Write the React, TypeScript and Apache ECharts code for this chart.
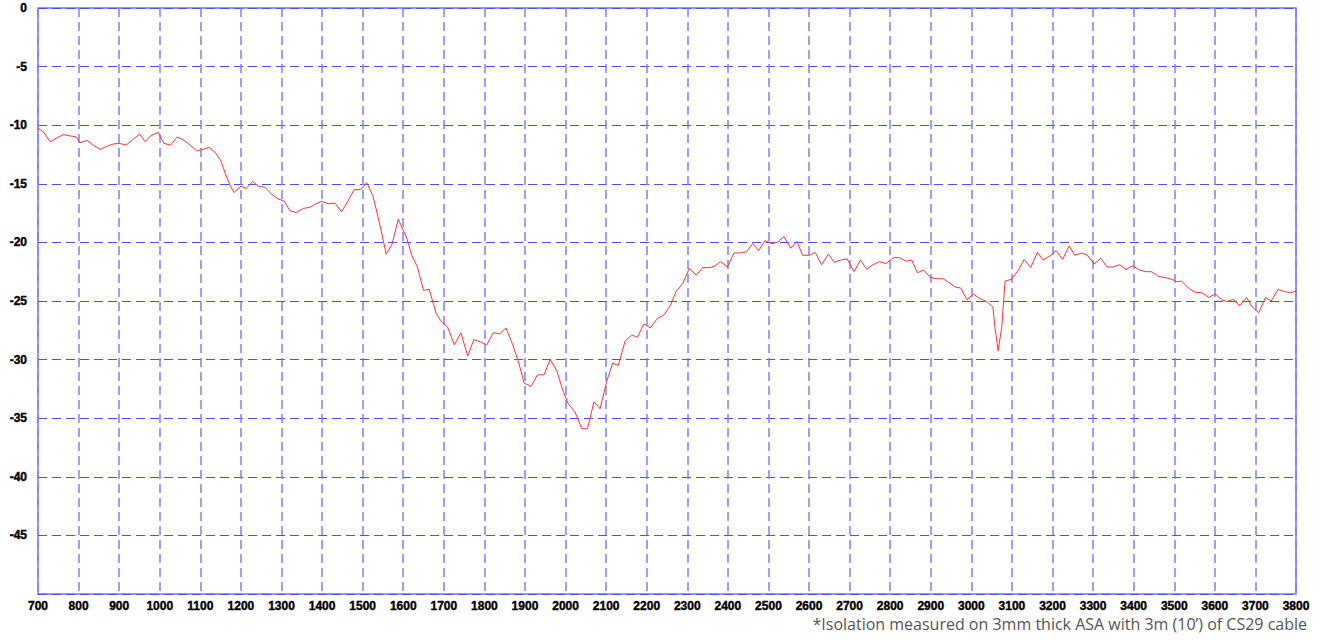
import React, { useEffect, useRef } from "react";
import * as echarts from "echarts";

const freqs: number[] = [
  700, 713, 730, 746, 762, 777, 794, 803, 821, 836, 853, 869, 886, 900, 917, 931, 950, 964, 978, 996,
  1010, 1027, 1043, 1060, 1075, 1091, 1107, 1122, 1136, 1150, 1163, 1173, 1183, 1200, 1213, 1229, 1243, 1259, 1276, 1292,
  1306, 1321, 1336, 1354, 1370, 1385, 1399, 1415, 1432, 1448, 1465, 1479, 1494, 1510, 1525, 1535, 1547, 1558, 1572, 1588,
  1599, 1609, 1621, 1635, 1650, 1664, 1681, 1695, 1709, 1726, 1742, 1759, 1774, 1791, 1806, 1822, 1838, 1853, 1870, 1884,
  1898, 1915, 1931, 1947, 1962, 1978, 1993, 2007, 2023, 2040, 2054, 2070, 2085, 2101, 2116, 2130, 2147, 2163, 2177, 2193,
  2209, 2226, 2242, 2258, 2273, 2289, 2305, 2322, 2338, 2356, 2368, 2382, 2399, 2415, 2432, 2446, 2461, 2476, 2492, 2508,
  2522, 2538, 2555, 2570, 2584, 2601, 2615, 2631, 2648, 2662, 2678, 2694, 2711, 2727, 2742, 2758, 2773, 2790, 2808, 2823,
  2839, 2853, 2867, 2882, 2899, 2915, 2930, 2946, 2960, 2974, 2989, 3005, 3021, 3038, 3053, 3058, 3066, 3075, 3083, 3099,
  3116, 3130, 3146, 3163, 3177, 3194, 3209, 3225, 3241, 3255, 3272, 3286, 3302, 3319, 3334, 3350, 3365, 3381, 3398, 3414,
  3430, 3444, 3461, 3477, 3494, 3506, 3518, 3535, 3551, 3568, 3585, 3601, 3617, 3630, 3646, 3661, 3678, 3692, 3708, 3725,
  3739, 3756, 3772, 3787, 3800,
];

const isolation: number[] = [
  -10.27, -10.55, -11.4, -11.1, -10.8, -10.9, -11.0, -11.5, -11.3, -11.7, -12.06, -11.8, -11.6, -11.55, -11.7, -11.3, -10.75, -11.4, -10.9, -10.6,
  -11.55, -11.7, -11.0, -11.3, -11.7, -12.2, -12.05, -11.9, -12.3, -13.0, -14.25, -15.1, -15.75, -15.2, -15.4, -14.8, -15.2, -15.3, -15.9, -16.3,
  -16.45, -17.3, -17.45, -17.1, -17.0, -16.7, -16.5, -16.7, -16.65, -17.4, -16.4, -15.5, -15.5, -14.9, -16.0, -17.4, -19.2, -21.0, -20.2, -18.0,
  -18.9, -19.65, -21.1, -22.1, -24.1, -24.0, -26.05, -26.8, -27.2, -28.75, -27.7, -29.7, -28.3, -28.5, -28.75, -27.7, -27.8, -27.3, -28.75, -30.2,
  -32.0, -32.3, -31.3, -31.3, -30.0, -30.9, -32.6, -33.8, -34.45, -35.9, -35.9, -33.6, -34.2, -31.9, -30.3, -30.5, -28.4, -27.9, -28.1, -26.95,
  -27.3, -26.5, -26.2, -25.4, -24.15, -23.5, -22.2, -22.8, -22.15, -22.15, -22.0, -21.65, -22.1, -20.9, -20.9, -20.8, -20.1, -20.7, -19.85, -20.1,
  -20.0, -19.5, -20.5, -19.9, -21.1, -21.1, -20.85, -21.9, -21.0, -21.7, -21.5, -21.4, -22.5, -21.5, -22.3, -21.9, -21.65, -21.8, -21.3, -21.3,
  -21.6, -21.5, -22.6, -22.35, -23.0, -23.1, -23.1, -23.45, -23.8, -23.9, -24.9, -24.4, -24.8, -25.05, -25.5, -27.2, -29.25, -27.2, -23.3, -23.15,
  -22.35, -21.45, -22.15, -20.85, -21.5, -21.15, -20.7, -21.45, -20.3, -21.1, -20.9, -21.1, -21.85, -21.35, -22.1, -22.1, -21.9, -22.3, -22.0, -22.35,
  -22.5, -22.5, -22.9, -23.0, -23.15, -23.35, -23.3, -23.9, -24.25, -24.3, -24.7, -24.4, -24.9, -25.05, -24.85, -25.4, -24.7, -25.5, -26.0, -24.7,
  -25.0, -24.0, -24.2, -24.3, -24.15,
];

const xRange = { min: 700, max: 3800, step: 100 };
const yRange = { min: -50, max: 0, step: 5 };
const footnote = "*Isolation measured on 3mm thick ASA with 3m (10\u2019) of CS29 cable";

export default function App() {
  const ref = useRef<HTMLDivElement>(null);

  useEffect(() => {
    document.body.style.margin = "0";
    if (!ref.current) return;
    const chart = echarts.init(ref.current, undefined, { renderer: "svg" });
    const data = freqs.map((f, i) => [f, isolation[i]]);
    const labelStyle = {
      color: "#000",
      fontFamily: "'Liberation Sans', Arial, sans-serif",
      fontWeight: "bold",
      fontSize: 12,
      textBorderColor: "#000",
      textBorderWidth: 0.4,
    };
    chart.setOption({
      animation: false,
      backgroundColor: "#ffffff",
      grid: {
        left: 38,
        right: 29,
        top: 8,
        bottom: 46,
        show: true,
        borderColor: "#7373ff",
        borderWidth: 1.5,
        backgroundColor: "transparent",
      },
      xAxis: {
        type: "value",
        min: xRange.min,
        max: xRange.max,
        interval: xRange.step,
        axisLine: { show: false },
        axisTick: { show: false },
        axisLabel: {
          ...labelStyle,
          margin: 6,
          formatter: (v: number) => String(v),
        },
        splitLine: {
          show: true,
          lineStyle: { color: "#7f7fff", type: [9, 5], width: 1.5 },
        },
      },
      yAxis: {
        type: "value",
        min: yRange.min,
        max: yRange.max,
        interval: yRange.step,
        axisLine: { show: false },
        axisTick: { show: false },
        axisLabel: {
          ...labelStyle,
          margin: 11,
          formatter: (v: number) => (v === yRange.min ? "" : String(v)),
        },
        splitLine: {
          show: true,
          lineStyle: { color: "#4d4dff", type: [9, 5], width: 1.2 },
        },
      },
      series: [
        {
          type: "line",
          data,
          showSymbol: false,
          symbol: "none",
          lineStyle: { color: "#ff3333", width: 1 },
        },
      ],
      graphic: [
        {
          type: "text",
          right: 18,
          top: 616,
          style: {
            text: footnote,
            fill: "#555",
            font: "16px 'Open Sans', 'Noto Sans', sans-serif",
          },
        },
      ],
    });
    return () => chart.dispose();
  }, []);

  return <div ref={ref} style={{ width: 1325, height: 640 }} />;
}
